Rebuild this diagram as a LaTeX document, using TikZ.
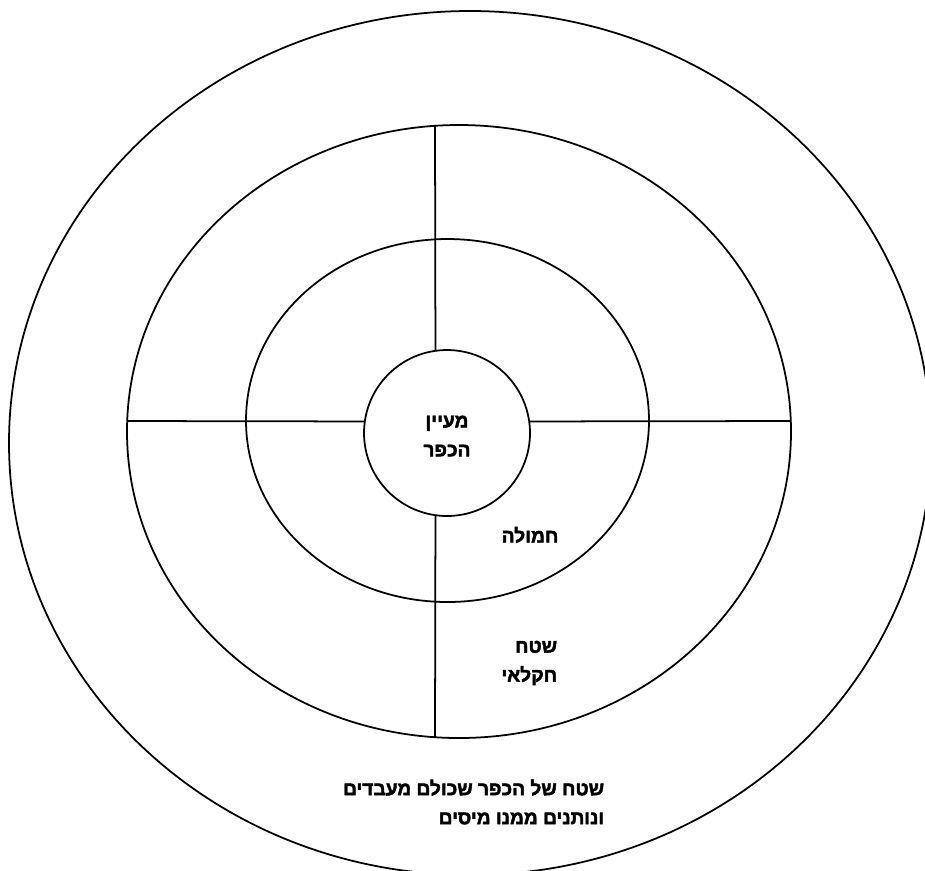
\documentclass[tikz,border=0pt]{standalone}
\usepackage{fontspec}
\TeXXeTstate=1
\newfontfamily\hebfont[Script=Hebrew]{Liberation Sans Bold}
\newcommand\heavytext{\special{pdf:literal direct 2 Tr 0.25 w}}
\begin{document}
\begin{tikzpicture}[x=0.02cm,y=-0.02cm,line width=1pt,
  lbl/.style={font=\hebfont\fontsize{10.9}{16.5}\selectfont\heavytext,inner sep=0pt},
  core/.style={draw,circle,minimum size=3.32cm,inner sep=0pt,outer sep=0pt}]
\useasboundingbox (0,0) rectangle (925,870);
\clip (0,0) rectangle (925,870);
\draw (470,443) ellipse [x radius=461,y radius=432];
\draw (459,431.5) ellipse [x radius=332,y radius=306.5];
\draw (447.5,420.5) ellipse [x radius=201.5,y radius=181.5];
\node[core] (spring) at (447,433) {};
\coordinate (top) at (435,125.8);
\coordinate (bottom) at (435,737.2);
\coordinate (left) at (127.3,421);
\coordinate (right) at (790.7,421);
\draw (top) -- (spring.98);
\draw (spring.262) -- (bottom);
\draw (left) -- (spring.172);
\draw (spring.8) -- (right);
\node[lbl,align=center] (name) at (447,436) {\beginR מעיין\endR\\\beginR הכפר\endR};
\node[lbl] (clan) at (530,535) {\beginR חמולה\endR};
\node[lbl,align=right,anchor=east] (farm) at (558,663) {\beginR שטח\endR\\\beginR חקלאי\endR};
\node[lbl,align=right,anchor=east] (land) at (605,802) {\beginR שטח של הכפר שכולם מעבדים\endR\\\beginR ונותנים ממנו מיסים\endR};
\end{tikzpicture}
\end{document}
